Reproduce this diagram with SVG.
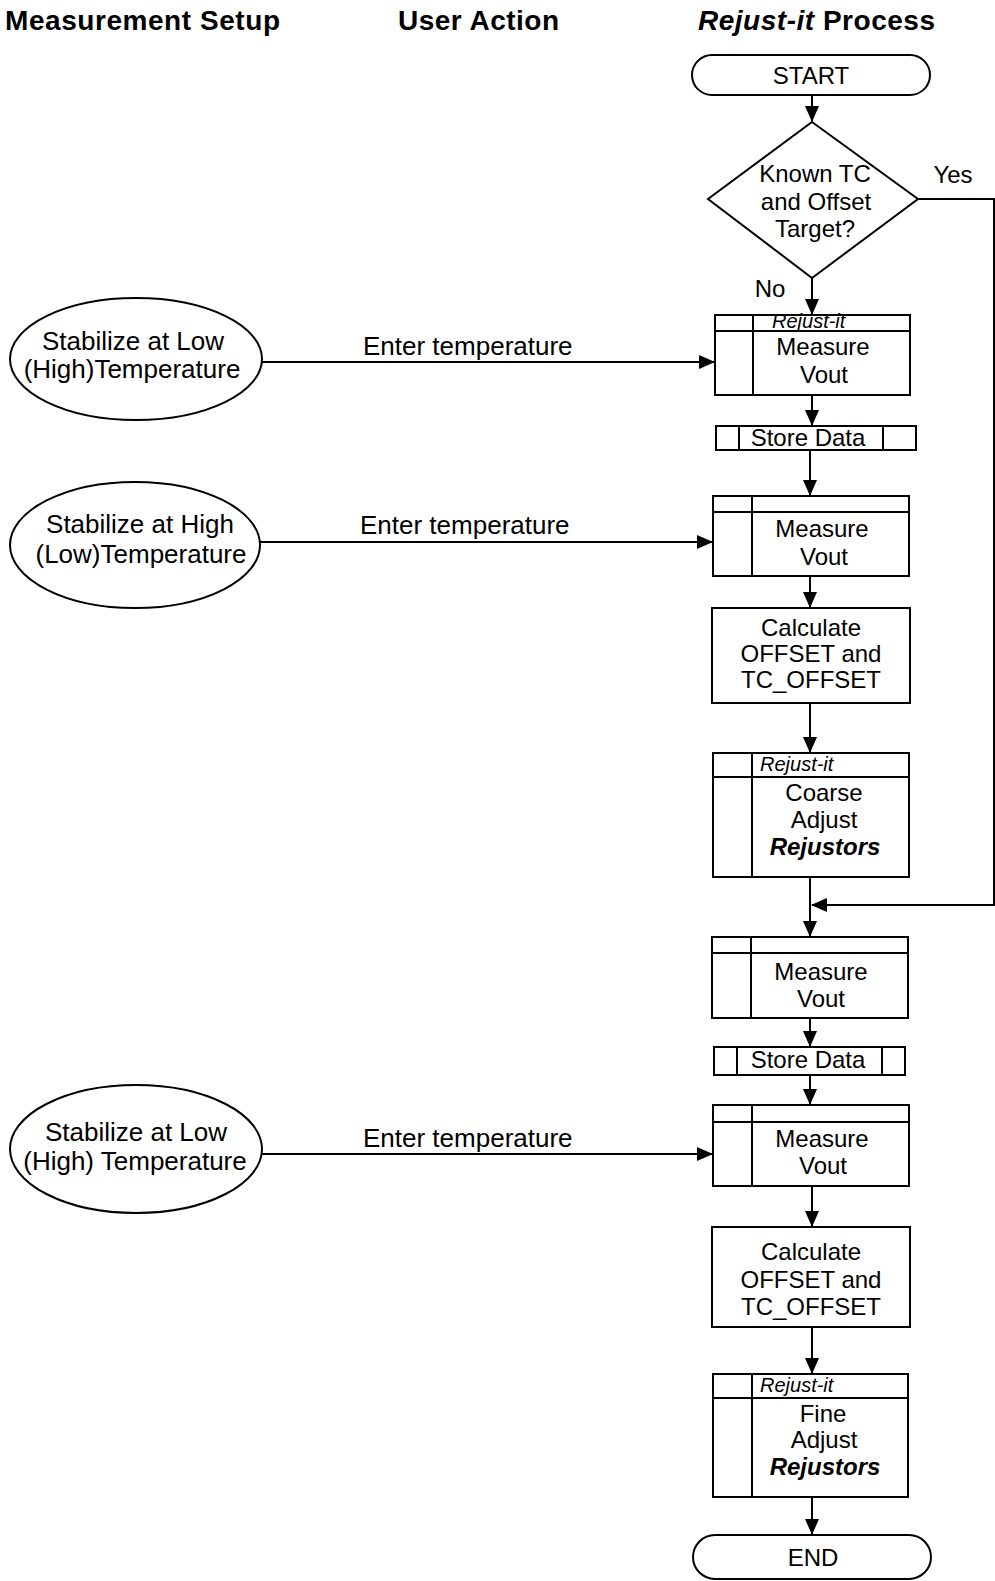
<svg xmlns="http://www.w3.org/2000/svg" width="995" height="1581" viewBox="0 0 995 1581">
<style>
.t{font-family:"Liberation Sans",Arial,sans-serif;font-size:24px;fill:#000;text-anchor:middle}
.e{font-family:"Liberation Sans",Arial,sans-serif;font-size:26px;fill:#000;text-anchor:middle}
.l{font-family:"Liberation Sans",Arial,sans-serif;font-size:26px;fill:#000}
.h{font-family:"Liberation Sans",Arial,sans-serif;font-size:28px;font-weight:bold;fill:#000}
.s{font-family:"Liberation Sans",Arial,sans-serif;font-size:20px;font-style:italic;fill:#000}
.bi{font-weight:bold;font-style:italic}
.sh{fill:#fff;stroke:#000;stroke-width:2}
.ln{fill:none;stroke:#000;stroke-width:2}
.c{fill:none;stroke:#000;stroke-width:2;marker-end:url(#arr)}
</style>
<defs>
<marker id="arr" markerWidth="16" markerHeight="14" refX="15" refY="7" orient="auto" markerUnits="userSpaceOnUse">
<path d="M0,0 L16,7 L0,14 z" fill="#000"/>
</marker>
</defs>
<rect width="995" height="1581" fill="#fff"/>
<g id="headers">
<text class="h" x="5" y="30" textLength="275">Measurement Setup</text>
<text class="h" x="398" y="30" textLength="161">User Action</text>
<text class="h" x="698" y="30" textLength="237"><tspan font-style="italic">Rejust-it</tspan> Process</text>
</g>
<g id="connectors">
<path class="c" d="M812,95 V121"/>
<path class="c" d="M812,278 V314"/>
<path class="c" d="M918,199 H994 V905 H812"/>
<path class="c" d="M262,362 H714"/>
<path class="c" d="M812,395 V425"/>
<path class="c" d="M810,450 V495"/>
<path class="c" d="M260,542 H712"/>
<path class="c" d="M810,576 V607"/>
<path class="c" d="M810,703 V752"/>
<path class="c" d="M810,877 V936"/>
<path class="c" d="M810,1018 V1046"/>
<path class="c" d="M810,1075 V1104"/>
<path class="c" d="M262,1154 H712"/>
<path class="c" d="M812,1186 V1226"/>
<path class="c" d="M812,1327 V1373"/>
<path class="c" d="M812,1497 V1534"/>
<text class="t" x="953" y="183">Yes</text>
<text class="t" x="770" y="297">No</text>
<text class="l" x="363" y="355">Enter temperature</text>
<text class="l" x="360" y="534">Enter temperature</text>
<text class="l" x="363" y="1147">Enter temperature</text>
</g>
<g id="start">
<rect class="sh" x="692" y="55" width="238" height="40" rx="20" ry="20"/>
<text class="t" x="811" y="84">START</text>
</g>
<g id="decision">
<polygon class="sh" points="812,122 918,199 812,278 708,199"/>
<text class="t" x="815" y="182">Known TC</text>
<text class="t" x="816" y="210">and Offset</text>
<text class="t" x="815" y="237">Target?</text>
</g>
<g id="stab1">
<ellipse class="sh" cx="136" cy="359" rx="126" ry="61"/>
<text class="e" x="133" y="350">Stabilize at Low</text>
<text class="e" x="132" y="378">(High)Temperature</text>
</g>
<g id="stab2">
<ellipse class="sh" cx="135" cy="545" rx="125" ry="63"/>
<text class="e" x="140" y="533">Stabilize at High</text>
<text class="e" x="141" y="563">(Low)Temperature</text>
</g>
<g id="stab3">
<ellipse class="sh" cx="136" cy="1149" rx="126" ry="64"/>
<text class="e" x="136" y="1141">Stabilize at Low</text>
<text class="e" x="135" y="1170">(High) Temperature</text>
</g>
<g id="measure1">
<rect class="sh" x="715" y="315" width="195" height="80"/>
<path class="ln" d="M715,331 H910 M753,315 V395"/>
<text class="s" x="772" y="328">Rejust-it</text>
<text class="t" x="823" y="355">Measure</text>
<text class="t" x="824" y="383">Vout</text>
</g>
<g id="store1">
<rect class="sh" x="716" y="426" width="200" height="24"/>
<path class="ln" d="M739,426 V450 M883,426 V450"/>
<text class="t" x="808" y="446">Store Data</text>
</g>
<g id="measure2">
<rect class="sh" x="713" y="496" width="196" height="80"/>
<path class="ln" d="M713,512 H909 M752,496 V576"/>
<text class="t" x="822" y="537">Measure</text>
<text class="t" x="824" y="565">Vout</text>
</g>
<g id="calc1">
<rect class="sh" x="712" y="608" width="198" height="95"/>
<text class="t" x="811" y="636">Calculate</text>
<text class="t" x="811" y="662">OFFSET and</text>
<text class="t" x="811" y="688">TC_OFFSET</text>
</g>
<g id="coarse">
<rect class="sh" x="713" y="753" width="196" height="124"/>
<path class="ln" d="M713,777 H909 M752,753 V877"/>
<text class="s" x="760" y="771">Rejust-it</text>
<text class="t" x="824" y="801">Coarse</text>
<text class="t" x="824" y="828">Adjust</text>
<text class="t bi" x="825" y="855">Rejustors</text>
</g>
<g id="measure3">
<rect class="sh" x="712" y="937" width="196" height="81"/>
<path class="ln" d="M712,953 H908 M751,937 V1018"/>
<text class="t" x="821" y="980">Measure</text>
<text class="t" x="821" y="1007">Vout</text>
</g>
<g id="store2">
<rect class="sh" x="714" y="1047" width="191" height="28"/>
<path class="ln" d="M737,1047 V1075 M882,1047 V1075"/>
<text class="t" x="808" y="1068">Store Data</text>
</g>
<g id="measure4">
<rect class="sh" x="713" y="1105" width="196" height="81"/>
<path class="ln" d="M713,1122 H909 M752,1105 V1186"/>
<text class="t" x="822" y="1147">Measure</text>
<text class="t" x="823" y="1174">Vout</text>
</g>
<g id="calc2">
<rect class="sh" x="712" y="1227" width="198" height="100"/>
<text class="t" x="811" y="1260">Calculate</text>
<text class="t" x="811" y="1288">OFFSET and</text>
<text class="t" x="811" y="1315">TC_OFFSET</text>
</g>
<g id="fine">
<rect class="sh" x="713" y="1374" width="195" height="123"/>
<path class="ln" d="M713,1398 H908 M752,1374 V1497"/>
<text class="s" x="760" y="1392">Rejust-it</text>
<text class="t" x="823" y="1422">Fine</text>
<text class="t" x="824" y="1448">Adjust</text>
<text class="t bi" x="825" y="1475">Rejustors</text>
</g>
<g id="end">
<rect class="sh" x="693" y="1535" width="238" height="44" rx="22" ry="22"/>
<text class="t" x="813" y="1566">END</text>
</g>
</svg>
